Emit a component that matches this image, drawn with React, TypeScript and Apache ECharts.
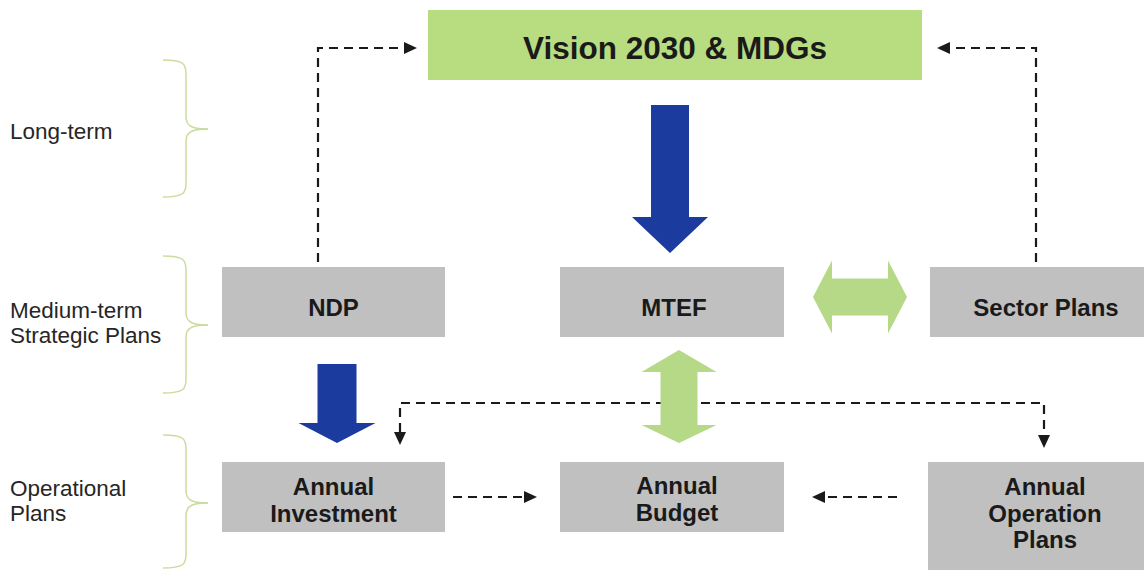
import React, { useEffect, useRef } from "react";
import * as echarts from "echarts";

const levelLabels = ["Long-term", "Medium-term\nStrategic Plans", "Operational\nPlans"];
const topLabel = "Vision 2030 & MDGs";
const midLabels = ["NDP", "MTEF", "Sector Plans"];
const lowLabels = ["Annual\nInvestment", "Annual\nBudget", "Annual\nOperation\nPlans"];

const FONT = '"Liberation Sans", Arial, sans-serif';
const GRAY = "#c0c0c0";
const VGREEN = "#b8dc80";
const AGREEN = "#b5d987";
const BLUE = "#1b3b9f";
const DASH = "#1a1a1a";
const BRACE = "#cadd9f";

function downArrow(cx: number, shaftW: number, headW: number, top: number, base: number, tip: number, fill: string) {
  const s = shaftW / 2, h = headW / 2;
  return {
    type: "polygon",
    shape: { points: [[cx - s, top], [cx + s, top], [cx + s, base], [cx + h, base], [cx, tip], [cx - h, base], [cx - s, base]] },
    style: { fill },
  };
}

function hDouble(cy: number, lt: number, lb: number, rb: number, rt: number, shaftH: number, headH: number, fill: string) {
  const s = shaftH / 2, h = headH / 2;
  return {
    type: "polygon",
    shape: { points: [[lt, cy], [lb, cy - h], [lb, cy - s], [rb, cy - s], [rb, cy - h], [rt, cy], [rb, cy + h], [rb, cy + s], [lb, cy + s], [lb, cy + h]] },
    style: { fill },
  };
}

function vDouble(cx: number, tt: number, tb: number, bb: number, bt: number, shaftW: number, headW: number, fill: string) {
  const s = shaftW / 2, h = headW / 2;
  return {
    type: "polygon",
    shape: { points: [[cx, tt], [cx + h, tb], [cx + s, tb], [cx + s, bb], [cx + h, bb], [cx, bt], [cx - h, bb], [cx - s, bb], [cx - s, tb], [cx - h, tb]] },
    style: { fill },
  };
}

function head(tx: number, ty: number, dir: "l" | "r" | "d") {
  const L = 13, W = 6;
  let pts: number[][];
  if (dir === "r") pts = [[tx, ty], [tx - L, ty - W], [tx - L, ty + W]];
  else if (dir === "l") pts = [[tx, ty], [tx + L, ty - W], [tx + L, ty + W]];
  else pts = [[tx, ty], [tx - W, ty - L], [tx + W, ty - L]];
  return { type: "polygon", shape: { points: pts }, style: { fill: DASH } };
}

function dashed(points: number[][]) {
  return {
    type: "polyline",
    shape: { points },
    style: { stroke: DASH, lineWidth: 2.2, lineDash: [9, 6], fill: null },
  };
}

function brace(top: number, mid: number, bottom: number) {
  const xl = 163, xs = 186, xt = 208;
  const st = { stroke: BRACE, lineWidth: 1.5, fill: null };
  return [
    { type: "bezierCurve", shape: { x1: xl, y1: top, cpx1: xs - 2, cpy1: top, cpx2: xs, cpy2: top + 4, x2: xs, y2: top + 14 }, style: st },
    { type: "line", shape: { x1: xs, y1: top + 14, x2: xs, y2: mid - 12 }, style: st },
    { type: "bezierCurve", shape: { x1: xs, y1: mid - 12, cpx1: xs, cpy1: mid - 2, cpx2: xs + 8, cpy2: mid, x2: xt, y2: mid }, style: st },
    { type: "bezierCurve", shape: { x1: xt, y1: mid, cpx1: xs + 8, cpy1: mid, cpx2: xs, cpy2: mid + 2, x2: xs, y2: mid + 12 }, style: st },
    { type: "line", shape: { x1: xs, y1: mid + 12, x2: xs, y2: bottom - 14 }, style: st },
    { type: "bezierCurve", shape: { x1: xs, y1: bottom - 14, cpx1: xs, cpy1: bottom - 4, cpx2: xs - 2, cpy2: bottom, x2: xl, y2: bottom }, style: st },
  ];
}

function box(x: number, y: number, w: number, h: number, fill: string, label: string, size: number, lh: number, dy: number, tx?: number) {
  return [
    { type: "rect", shape: { x, y, width: w, height: h }, style: { fill } },
    {
      type: "text",
      style: {
        text: label, x: tx !== undefined ? tx : x + w / 2, y: y + h / 2 + dy,
        textAlign: "center", textVerticalAlign: "middle",
        fontFamily: FONT, fontWeight: "bold", fontSize: size, lineHeight: lh, fill: "#1a1a1a",
      },
    },
  ];
}

export default function App() {
  const ref = useRef<HTMLDivElement>(null);
  useEffect(() => {
    if (!ref.current) return;
    const chart = echarts.init(ref.current, null, { renderer: "svg" });
    const els: any[] = [];
    // braces
    els.push(...brace(60, 129, 197));
    els.push(...brace(256, 325, 393));
    els.push(...brace(435, 503, 568));
    // level labels
    const ly = [131, 323, 501];
    levelLabels.forEach((t, i) => {
      els.push({
        type: "text",
        style: { text: t, x: 10, y: ly[i], textAlign: "left", textVerticalAlign: "middle", fontFamily: FONT, fontSize: 22.5, lineHeight: 25, fill: "#262626" },
      });
    });
    // dashed connectors
    els.push(dashed([[318, 262], [318, 48], [404, 48]]), head(417, 48, "r"));
    els.push(dashed([[1036, 262], [1036, 48], [950, 48]]), head(937, 48, "l"));
    els.push(dashed([[400, 432], [400, 403], [1044, 403], [1044, 435]]), head(400, 445, "d"), head(1044, 448, "d"));
    els.push(dashed([[453, 497], [524, 497]]), head(537, 497, "r"));
    els.push(dashed([[897, 497], [825, 497]]), head(812, 497, "l"));
    // boxes
    els.push(...box(428, 10, 494, 70, VGREEN, topLabel, 31.5, 34, 3));
    els.push(...box(222, 267, 223, 70, GRAY, midLabels[0], 24, 27, 5));
    els.push(...box(560, 267, 224, 70, GRAY, midLabels[1], 24, 27, 5, 674));
    els.push(...box(930, 267, 214, 70, GRAY, midLabels[2], 24, 27, 5, 1046));
    els.push(...box(222, 462, 223, 70, GRAY, lowLabels[0], 24, 27, 3));
    els.push(...box(560, 462, 224, 70, GRAY, lowLabels[1], 24, 27, 2, 677));
    els.push(...box(928, 462, 216, 108, GRAY, lowLabels[2], 24, 26.5, -3, 1045));
    // block arrows
    els.push(downArrow(670, 38, 76, 105, 217, 253, BLUE));
    els.push(downArrow(337, 39, 77, 364, 423, 443, BLUE));
    els.push(hDouble(297, 813, 832, 888, 907, 37, 73, AGREEN));
    els.push(vDouble(679, 350, 372, 425, 443, 37, 75, AGREEN));

    chart.setOption({
      animation: false,
      backgroundColor: "#ffffff",
      graphic: { elements: els },
    });
    return () => chart.dispose();
  }, []);
  return (
    <div
      ref={ref}
      style={{ position: "fixed", left: 0, top: 0, width: 1144, height: 573, background: "#fff" }}
    />
  );
}
